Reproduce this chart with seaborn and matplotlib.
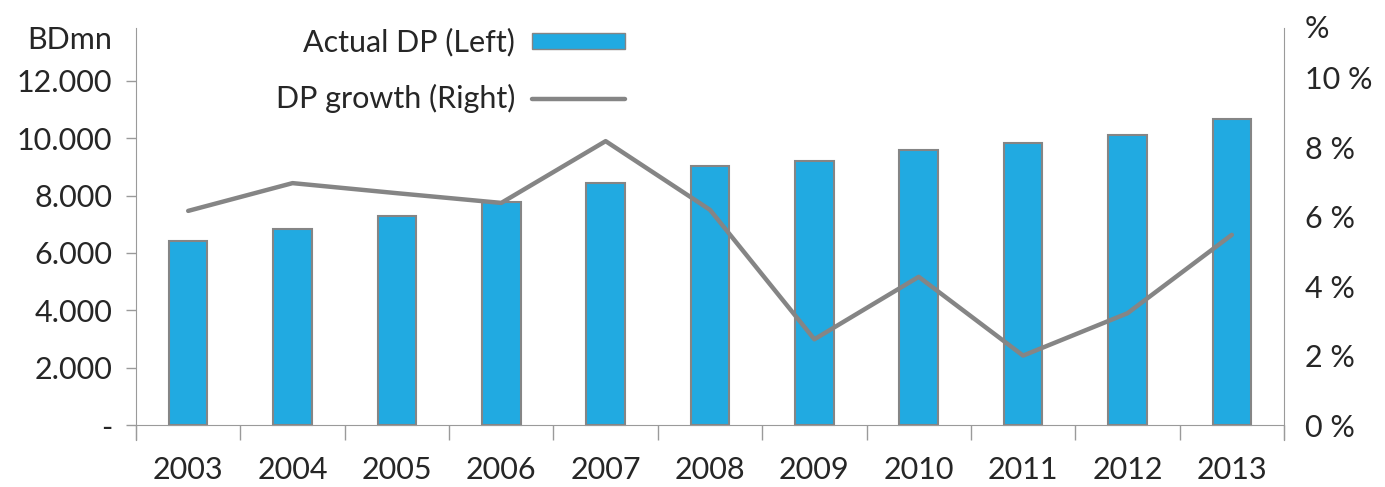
import numpy as np
import pandas as pd
import seaborn as sns
import matplotlib.pyplot as plt
from matplotlib.patches import Patch
from matplotlib.lines import Line2D
from matplotlib.ticker import FixedLocator, FuncFormatter

# veriler
yillar = ["2003", "2004", "2005", "2006", "2007", "2008", "2009", "2010", "2011", "2012", "2013"]
actual_dp = [6420, 6840, 7300, 7780, 8440, 9030, 9200, 9590, 9830, 10120, 10660]
dp_growth = [6.17, 6.97, 6.68, 6.40, 8.18, 6.20, 2.47, 4.27, 2.00, 3.22, 5.48]

bar_renk = "#21aae1"
gri = "#858585"
eksen_gri = "#9a9a9a"

sns.set_style("white")
plt.rcParams['font.family'] = ['Lato', 'DejaVu Sans']
fs = 22

fig = plt.figure(figsize=(13.85, 4.87), dpi=100)
ax = fig.add_axes([136/1385, 47/487, 1148/1385, 412/487])

veri = pd.DataFrame({"Yıl": yillar, "DP": actual_dp})
sns.barplot(x="Yıl", y="DP", data=veri, ax=ax, color=bar_renk, width=0.37,
            edgecolor=gri, linewidth=1.5, saturation=1)

ax.set_xlim(-0.5, len(yillar) - 0.5)
ax.set_ylim(-523, 13847)
ax.set_xlabel("")
ax.set_ylabel("")

ax.set_yticks(range(0, 12001, 2000))
ax.yaxis.set_major_formatter(FuncFormatter(lambda v, p: "-" if v == 0 else f"{int(v):,}".replace(",", ".")))
ax.tick_params(axis="y", which="major", length=7.2, width=1, color=eksen_gri, pad=10,
               labelsize=fs, left=True)
ax.xaxis.set_minor_locator(FixedLocator(np.arange(-0.5, len(yillar), 1.0)))
ax.tick_params(axis="x", which="minor", length=10.8, width=1, color=eksen_gri, bottom=True, direction="out")
ax.tick_params(axis="x", which="major", length=0, pad=22, labelsize=fs)

for s in ["top", "right"]:
    ax.spines[s].set_visible(False)
ax.spines["bottom"].set_position(("data", 0))
ax.spines["left"].set_color(eksen_gri)
ax.spines["bottom"].set_color(eksen_gri)

ax2 = ax.twinx()
sns.lineplot(x=np.arange(len(yillar)), y=dp_growth, ax=ax2, color=gri, linewidth=3.2)
ax2.set_ylim(-0.432, 11.44)
ax2.set_yticks(range(0, 11, 2))
ax2.yaxis.set_major_formatter(FuncFormatter(lambda v, p: f"{int(v)} %"))
ax2.tick_params(axis="y", length=0, pad=15, labelsize=fs)
for s in ["top", "left", "bottom"]:
    ax2.spines[s].set_visible(False)
ax2.spines["right"].set_color(eksen_gri)
ax2.set_ylabel("")

fig.text(112/1385, 1 - 40/487, "BDmn", ha="right", va="center", fontsize=fs)
fig.text(1305/1385, 1 - 29/487, "%", ha="left", va="center", fontsize=fs)

el = [Patch(facecolor=bar_renk, edgecolor=gri, linewidth=1),
      Line2D([0], [0], color=gri, linewidth=3.2)]
ax2.legend(el, ["Actual DP (Left)", "DP growth (Right)"], loc="upper right",
           bbox_to_anchor=(625/1385, 1 - 28/487), bbox_transform=fig.transFigure,
           frameon=False, markerfirst=False, fontsize=fs, borderpad=0, borderaxespad=0,
           handlelength=3.05, handletextpad=0.55, handleheight=0.42, labelspacing=0.9)

plt.savefig("out.png", dpi=100)
